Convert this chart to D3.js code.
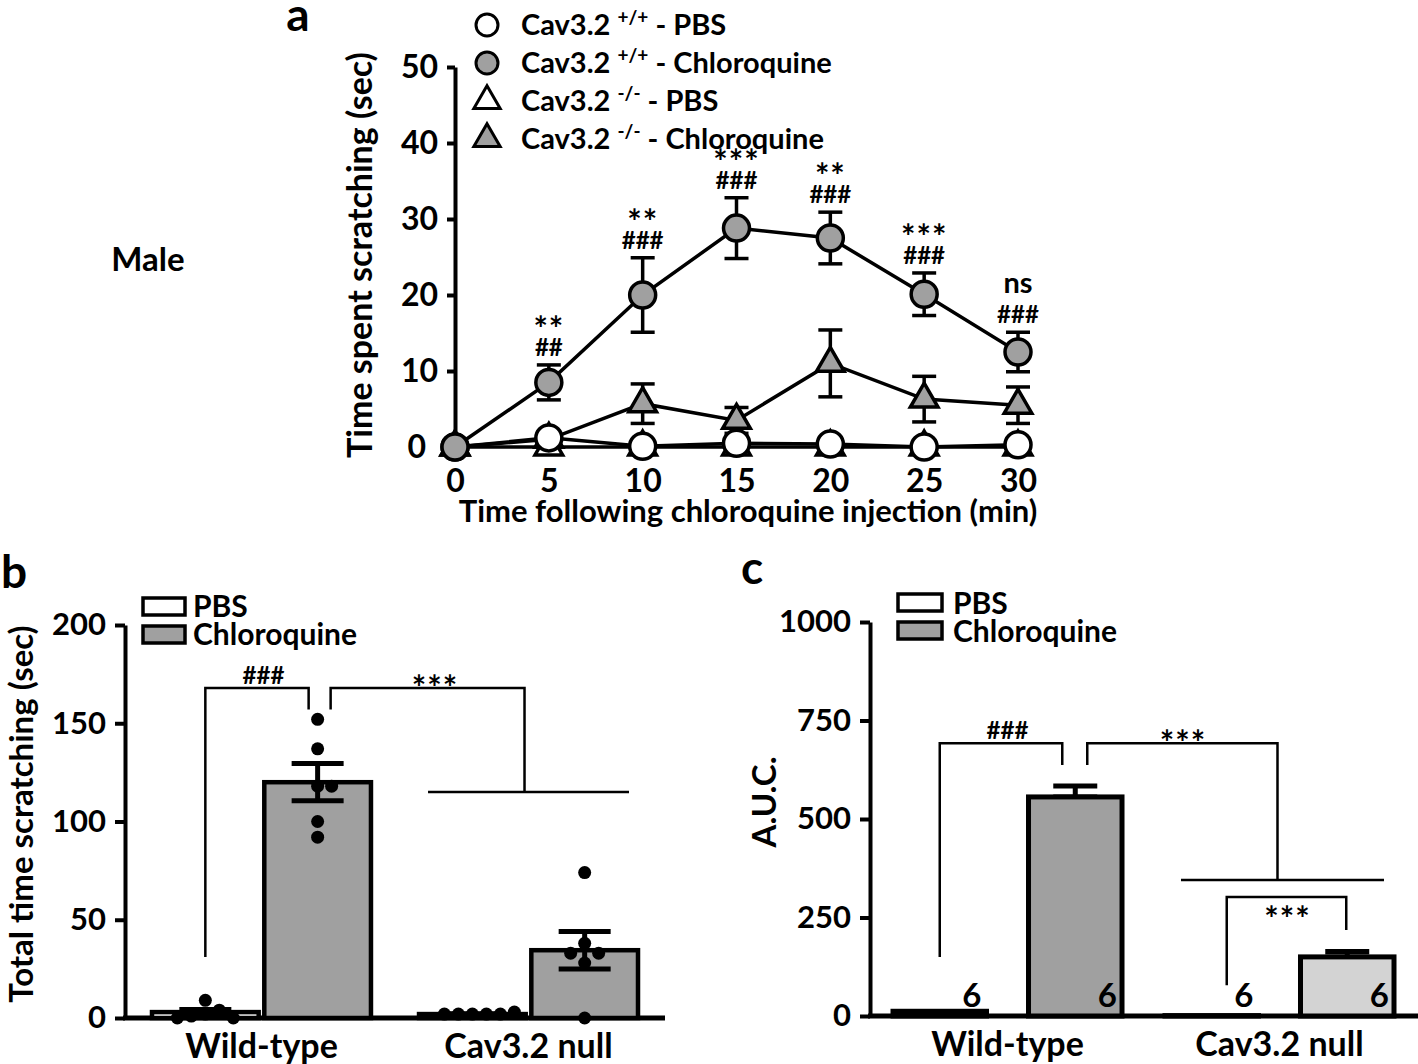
<!DOCTYPE html>
<html><head><meta charset="utf-8">
<script src="https://cdn.jsdelivr.net/npm/d3@7"></script>
<style>
body{margin:0;background:#fff}
svg{display:block}
text{font-family:Lato,"Open Sans",sans-serif;font-weight:700;fill:#000}
</style>
</head><body>
<svg id="chart" width="1418" height="1064"></svg>
<script>
// ---------------- DATA ----------------
// Panel a: time course
const timePoints = [0, 5, 10, 15, 20, 25, 30];
const wtPbsMean  = [0, 1.2, 0.1, 0.5, 0.4, 0.0, 0.3];
const wtPbsSem   = [0, 0.6, 0.1, 0.4, 0.3, 0.0, 0.3];
const wtCqMean   = [0, 8.5, 20.0, 28.8, 27.5, 20.1, 12.5];
const wtCqSem    = [0, 2.3, 4.9, 4.0, 3.4, 2.8, 2.6];
const koPbsMean  = [0, 0, 0, 0, 0, 0, 0];
const koPbsSem   = [0, 0, 0, 0, 0, 0, 0];
const koCqMean   = [0, 1.0, 5.7, 3.5, 11.0, 6.3, 5.5];
const koCqSem    = [0, 0.8, 2.6, 1.7, 4.4, 3.0, 2.4];
const sigStars   = ["", "**", "**", "***", "**", "***", "ns"];
const sigHash    = ["", "##", "###", "###", "###", "###", "###"];
const yTicksA    = [0, 10, 20, 30, 40, 50];
const xTicksA    = [0, 5, 10, 15, 20, 25, 30];
const legendGenotype  = ["+/+", "+/+", "-/-", "-/-"];
const legendTreatment = ["PBS", "Chloroquine", "PBS", "Chloroquine"];

// Panel b: total time scratching
const groups      = ["Wild-type", "Cav3.2 null"];
const treatments  = ["PBS", "Chloroquine"];
const totalPbsMean = [3, 2];
const totalPbsSem  = [1.3, 0.2];
const totalCqMean  = [120, 34.5];
const totalCqSem   = [9.5, 9.5];
const wtPbsDots    = [2, 9, 4, 1, 0, 0];
const wtCqDots     = [152, 137, 118, 118, 100, 92];
const nullPbsDots  = [2, 2, 2, 2, 2, 3];
const nullCqDots   = [74, 38, 33, 33, 28, 0];
const yTicksB      = [0, 50, 100, 150, 200];

// Panel c: AUC
const aucPbsMean = [12, 1];
const aucCqMean  = [556, 150];
const aucCqSem   = [28, 14];
const aucN       = [6, 6, 6, 6];
const yTicksC    = [0, 250, 500, 750, 1000];

// ---------------- DRAWING ----------------
const svg = d3.select("#chart");
const GRAY = "#a0a0a0", LIGHT = "#d3d3d3";
const FONT = "Lato, 'Open Sans', sans-serif";

function styleAxis(g, fs, sw) {
  g.attr("font-family", null).attr("font-size", null);
  g.select(".domain").attr("stroke", "#000").attr("stroke-width", sw);
  g.selectAll(".tick line").attr("stroke", "#000").attr("stroke-width", sw);
  g.selectAll(".tick text").style("font-size", fs + "px").style("font-family", FONT).style("font-weight", 700).attr("fill", "#000");
}
function rotTitle(x, y, txt, fs) {
  svg.append("text").attr("transform", `translate(${x},${y}) rotate(-90)`)
    .attr("text-anchor", "middle").attr("dominant-baseline", "central")
    .style("font-size", fs + "px").text(txt);
}
function label(x, y, txt, fs, anchor) {
  return svg.append("text").attr("x", x).attr("y", y).attr("text-anchor", anchor || "middle")
    .style("font-size", fs + "px").text(txt);
}
function stars(x, y, txt, fs) {
  return label(x, y, txt, fs).style("letter-spacing", "1px");
}

// ======== Panel a ========
const xA = d3.scaleLinear().domain([0, 30]).range([455, 1018]);
const yA = d3.scaleLinear().domain([0, 50]).range([447, 67]);
const gA = svg.append("g");

const axA = gA.append("g").attr("transform", `translate(${xA(0)},0)`)
  .call(d3.axisLeft(yA).tickValues(yTicksA).tickSize(8).tickSizeOuter(0).tickPadding(9));
styleAxis(axA, 32, 4);
axA.selectAll(".tick text").attr("dx", d => d === 0 ? -12 : 0);
const axAx = gA.append("g").attr("transform", `translate(0,${yA(0)})`)
  .call(d3.axisBottom(xA).tickValues(xTicksA).tickSize(0).tickPadding(22));
styleAxis(axAx, 32, 4);
axAx.select(".domain").remove();

rotTitle(358, 255, "Time spent scratching (sec)", 34);
label(748, 522, "Time following chloroquine injection (min)", 31);
label(298, 31, "a", 46);
label(148, 271, "Male", 33);

const triSym = d3.symbol().type(d3.symbolTriangle).size(330);
const seriesA = [
  {mean: koPbsMean, sem: koPbsSem, shape: "tri", fill: "#fff"},
  {mean: koCqMean,  sem: koCqSem,  shape: "tri", fill: GRAY},
  {mean: wtPbsMean, sem: wtPbsSem, shape: "circ", fill: "#fff"},
  {mean: wtCqMean,  sem: wtCqSem,  shape: "circ", fill: GRAY}
];
const lineA = d3.line().x((d, i) => xA(timePoints[i])).y(d => yA(d));
seriesA.forEach(s => {
  const g = gA.append("g");
  g.append("path").attr("d", lineA(s.mean)).attr("fill", "none").attr("stroke", "#000").attr("stroke-width", 3.5);
  timePoints.forEach((t, i) => {
    if (s.sem[i] <= 0) return;
    const x = xA(t), y1 = yA(s.mean[i] + s.sem[i]), y0 = yA(Math.max(0, s.mean[i] - s.sem[i]));
    g.append("line").attr("x1", x).attr("x2", x).attr("y1", y0).attr("y2", y1).attr("stroke", "#000").attr("stroke-width", 3.5);
    [y0, y1].forEach(yy => g.append("line").attr("x1", x - 12).attr("x2", x + 12).attr("y1", yy).attr("y2", yy).attr("stroke", "#000").attr("stroke-width", 3.5));
  });
  timePoints.forEach((t, i) => {
    if (s.shape === "circ") {
      g.append("circle").attr("cx", xA(t)).attr("cy", yA(s.mean[i])).attr("r", 13)
        .attr("fill", s.fill).attr("stroke", "#000").attr("stroke-width", 3.5);
    } else {
      g.append("path").attr("d", triSym()).attr("transform", `translate(${xA(t)},${yA(s.mean[i])})`)
        .attr("fill", s.fill).attr("stroke", "#000").attr("stroke-width", 3.5);
    }
  });
});

// significance labels
timePoints.forEach((t, i) => {
  if (!sigHash[i]) return;
  const x = xA(t), top = yA(wtCqMean[i] + wtCqSem[i]);
  label(x, top - 9, sigHash[i], 24);
  if (sigStars[i] === "ns") label(x, top - 39, "ns", 29);
  else stars(x, top - 24, sigStars[i], 34);
});

// legend a
const legY = d3.scalePoint().domain(d3.range(4)).range([25, 139]);
legendGenotype.forEach((gt, i) => {
  const s = [seriesA[2], seriesA[3], seriesA[0], seriesA[1]][i];
  const y = legY(i), x = 487;
  if (s.shape === "circ")
    gA.append("circle").attr("cx", x).attr("cy", y).attr("r", 11).attr("fill", s.fill).attr("stroke", "#000").attr("stroke-width", 3);
  else
    gA.append("path").attr("d", d3.symbol().type(d3.symbolTriangle).size(300)()).attr("transform", `translate(${x},${y})`)
      .attr("fill", s.fill).attr("stroke", "#000").attr("stroke-width", 3);
  const t = gA.append("text").attr("x", 521).attr("y", y + 10).style("font-size", "29px");
  t.append("tspan").text("Cav3.2 ");
  t.append("tspan").attr("dy", -11).style("font-size", "19px").text(gt);
  t.append("tspan").attr("dy", 11).text(" - " + legendTreatment[i]);
});

// ======== Panel b ========
const yB = d3.scaleLinear().domain([0, 200]).range([1018, 625]);
const xB = d3.scaleBand().domain(groups).range([152, 638]).paddingInner(0.18);
const xBs = d3.scaleBand().domain(treatments).range([0, xB.bandwidth()]).paddingInner(0.05);
const gB = svg.append("g");
const axB = gB.append("g").attr("transform", `translate(125,0)`)
  .call(d3.axisLeft(yB).tickValues(yTicksB).tickSize(10).tickSizeOuter(0).tickPadding(9));
styleAxis(axB, 31, 4);
gB.append("line").attr("x1", 123).attr("x2", xB.range()[1] + 27).attr("y1", yB(0)).attr("y2", yB(0))
  .attr("stroke", "#000").attr("stroke-width", 5);
rotTitle(20, 814, "Total time scratching (sec)", 33);
label(14, 588, "b", 46);
groups.forEach(g => label(xB(g) + xB.bandwidth() / 2, 1058, g, 34));

function swarm(vals, cx, yS, r) {
  const placed = [];
  vals.forEach(v => {
    const y = yS(v);
    for (let k = 0; k < 40; k++) {
      const off = k === 0 ? 0 : (k % 2 ? 1 : -1) * Math.ceil(k / 2) * r;
      const x = cx + off;
      if (placed.every(p => Math.hypot(p.x - x, p.y - y) >= 2 * r * 0.95)) { placed.push({x, y}); break; }
    }
  });
  return placed;
}
function errBar(g, x, yTop, yBot, half, sw) {
  g.append("line").attr("x1", x).attr("x2", x).attr("y1", yBot).attr("y2", yTop).attr("stroke", "#000").attr("stroke-width", sw);
  [yTop, yBot].forEach(yy => g.append("line").attr("x1", x - half).attr("x2", x + half).attr("y1", yy).attr("y2", yy).attr("stroke", "#000").attr("stroke-width", sw));
}
const dotsB = [[wtPbsDots, wtCqDots], [nullPbsDots, nullCqDots]];
groups.forEach((grp, gi) => {
  treatments.forEach((tr, ti) => {
    const m = ti === 0 ? totalPbsMean[gi] : totalCqMean[gi];
    const se = ti === 0 ? totalPbsSem[gi] : totalCqSem[gi];
    const x0 = xB(grp) + xBs(tr), w = xBs.bandwidth(), cx = x0 + w / 2;
    gB.append("rect").attr("x", x0).attr("y", yB(m)).attr("width", w).attr("height", yB(0) - yB(m))
      .attr("fill", ti === 0 ? "#fff" : GRAY).attr("stroke", "#000").attr("stroke-width", 4.5);
    errBar(gB, cx, yB(m + se), yB(m - se), 26, 5);
    swarm(dotsB[gi][ti], cx, yB, 7).forEach(p =>
      gB.append("circle").attr("cx", p.x).attr("cy", p.y).attr("r", 6.5).attr("fill", "#000"));
  });
});
// legend b
treatments.forEach((tr, i) => {
  gB.append("rect").attr("x", 143).attr("y", 598 + i * 28).attr("width", 42).attr("height", 17)
    .attr("fill", i === 0 ? "#fff" : GRAY).attr("stroke", "#000").attr("stroke-width", 3.5);
  label(193, 617 + i * 28, tr, 30, "start");
});
// brackets b
function path(g, pts, sw) {
  g.append("path").attr("d", d3.line()(pts)).attr("fill", "none").attr("stroke", "#000").attr("stroke-width", sw || 2.5);
}
{
  const wPbs = xB(groups[0]) + xBs(treatments[0]) + xBs.bandwidth() / 2;
  const wCq = xB(groups[0]) + xBs(treatments[1]) + xBs.bandwidth() / 2;
  const nMid = xB(groups[1]) + xB.bandwidth() / 2;
  path(gB, [[wPbs, yB(31)], [wPbs, yB(168)], [wCq - 9, yB(168)], [wCq - 9, yB(157)]]);
  path(gB, [[wCq + 13, yB(157)], [wCq + 13, yB(168)], [nMid - 4, yB(168)], [nMid - 4, yB(115)]]);
  path(gB, [[xB(groups[1]) + 9, yB(115)], [xB(groups[1]) + xB.bandwidth() - 9, yB(115)]]);
  label((wPbs + wCq) / 2 + 2, yB(168) - 4, "###", 24);
  stars(435, yB(168) + 12, "***", 34);
}

// ======== Panel c ========
const yC = d3.scaleLinear().domain([0, 1000]).range([1016, 622]);
const xC = d3.scaleBand().domain(groups).range([893, 1394]).paddingInner(0.158);
const xCs = d3.scaleBand().domain(treatments).range([0, xC.bandwidth()]).paddingInner(0.31);
const gC = svg.append("g");
const axC = gC.append("g").attr("transform", `translate(870,0)`)
  .call(d3.axisLeft(yC).tickValues(yTicksC).tickFormat(d3.format("d")).tickSize(10).tickSizeOuter(0).tickPadding(9));
styleAxis(axC, 31, 4);
gC.append("line").attr("x1", 868).attr("x2", 1418).attr("y1", yC(0)).attr("y2", yC(0))
  .attr("stroke", "#000").attr("stroke-width", 5);
rotTitle(763, 802, "A.U.C.", 33);
label(752, 584, "c", 46);
groups.forEach(g => label(xC(g) + xC.bandwidth() / 2, 1056, g, 34));
let ni = 0;
groups.forEach((grp, gi) => {
  treatments.forEach((tr, ti) => {
    const m = ti === 0 ? aucPbsMean[gi] : aucCqMean[gi];
    const x0 = xC(grp) + xCs(tr), w = xCs.bandwidth(), cx = x0 + w / 2;
    if (ti === 1) errBar(gC, cx, yC(m + aucCqSem[gi]), yC(m), 22, 5);
    gC.append("rect").attr("x", x0).attr("y", yC(m)).attr("width", w).attr("height", yC(0) - yC(m))
      .attr("fill", ti === 0 ? "#fff" : (gi === 0 ? GRAY : LIGHT)).attr("stroke", "#000").attr("stroke-width", 5);
    label(x0 + w - 5, 1007, String(aucN[ni++]), 33, "end");
  });
});
treatments.forEach((tr, i) => {
  gC.append("rect").attr("x", 898).attr("y", 594 + i * 28).attr("width", 44).attr("height", 17)
    .attr("fill", i === 0 ? "#fff" : GRAY).attr("stroke", "#000").attr("stroke-width", 3.5);
  label(953, 614 + i * 28, tr, 30, "start");
});
{
  const wPbs = xC(groups[0]) + xCs(treatments[0]) + xCs.bandwidth() / 2;
  const wCq = xC(groups[0]) + xCs(treatments[1]) + xCs.bandwidth() / 2;
  const nPbs = xC(groups[1]) + xCs(treatments[0]) + xCs.bandwidth() / 2;
  const nCq = xC(groups[1]) + xCs(treatments[1]) + xCs.bandwidth() / 2;
  const nMid = xC(groups[1]) + xC.bandwidth() / 2;
  path(gC, [[wPbs, yC(150)], [wPbs, yC(692)], [wCq - 13, yC(692)], [wCq - 13, yC(637)]]);
  path(gC, [[wCq + 12, yC(637)], [wCq + 12, yC(692)], [nMid - 2, yC(692)], [nMid - 2, yC(345)]]);
  path(gC, [[xC(groups[1]) + 16, yC(345)], [xC(groups[1]) + xC.bandwidth() - 10, yC(345)]]);
  path(gC, [[nPbs + 15, yC(78)], [nPbs + 15, yC(302)], [nCq - 1, yC(302)], [nCq - 1, yC(218)]]);
  label((wPbs + wCq) / 2, yC(692) - 4, "###", 24);
  stars(1183, yC(692) + 12, "***", 34);
  stars((nPbs + nCq) / 2 + 8, yC(302) + 34, "***", 34);
}
</script>
</body></html>
